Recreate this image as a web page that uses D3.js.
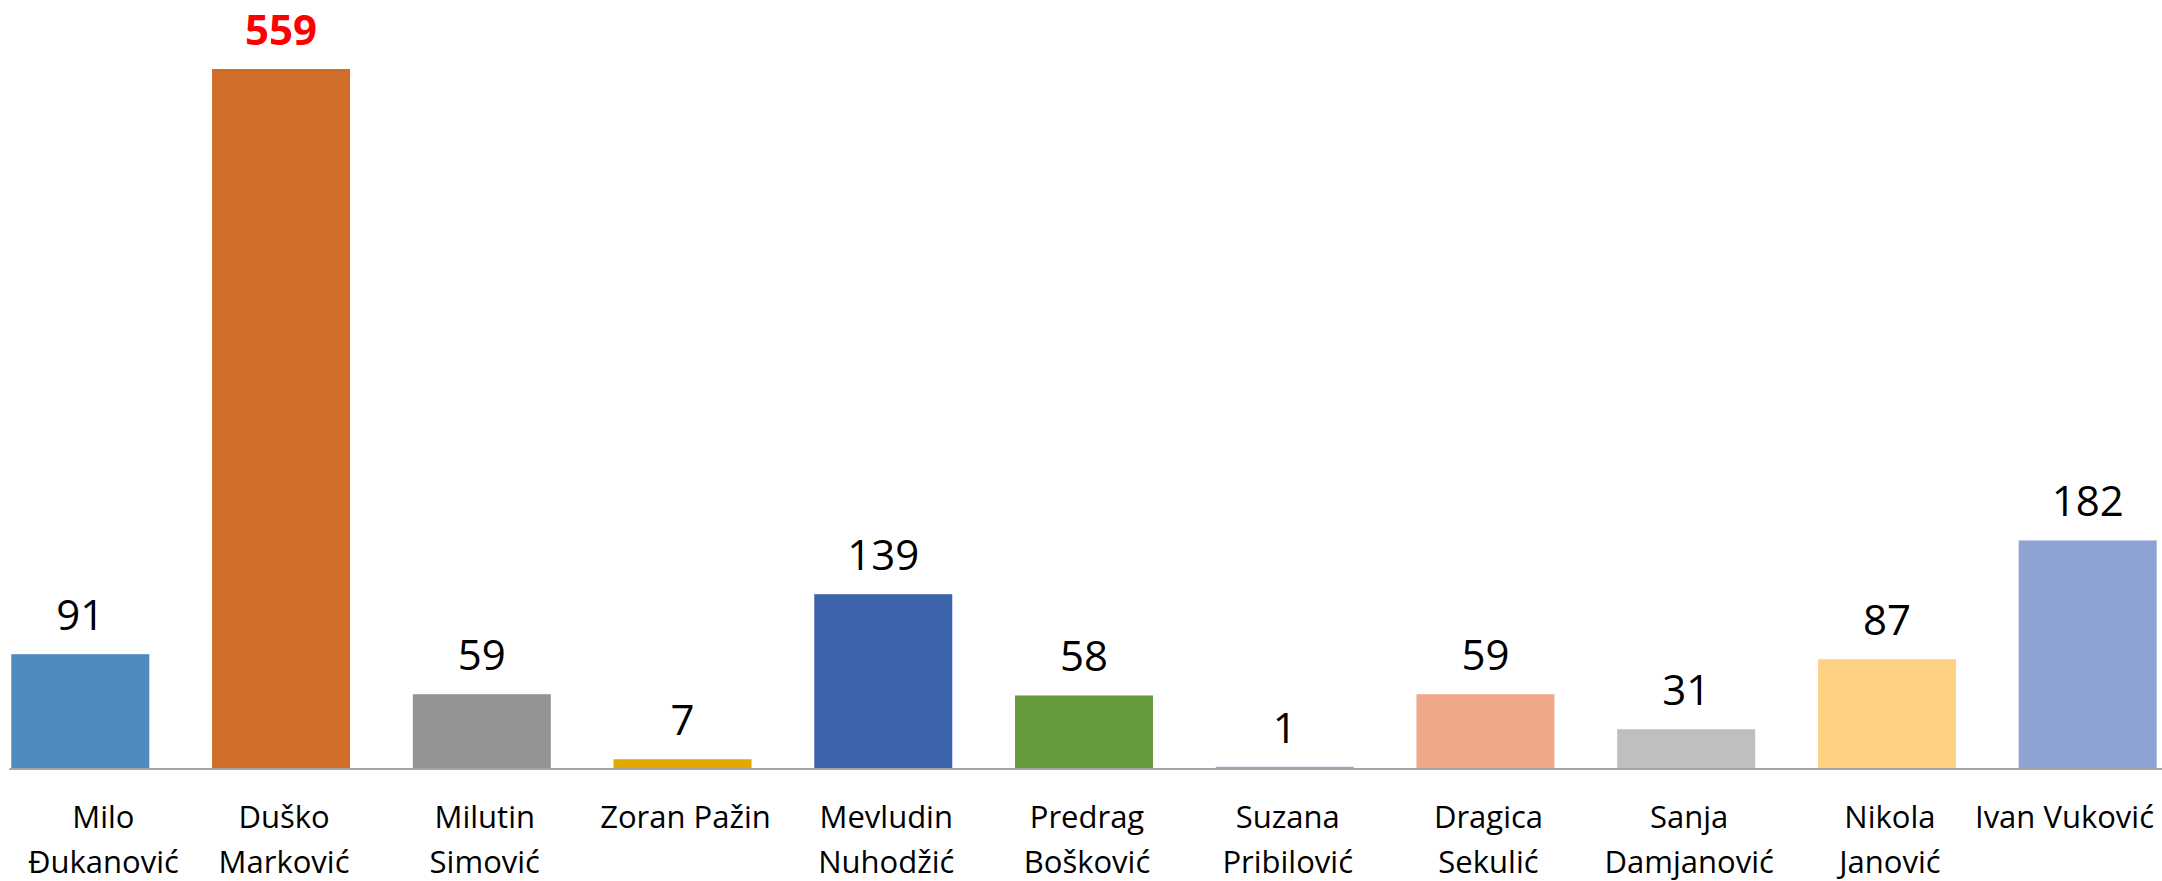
<!DOCTYPE html>
<html>
<head>
<meta charset="utf-8">
<script src="https://cdn.jsdelivr.net/npm/d3@7"></script>
<style>
  body { margin: 0; background: #fff; }
  svg { display: block; font-family: "Open Sans", sans-serif; }
</style>
</head>
<body>
<div id="main"></div>
<script>
// Data
const names = [
  ['Milo', 'Đukanović'],
  ['Duško', 'Marković'],
  ['Milutin', 'Simović'],
  ['Zoran Pažin'],
  ['Mevludin', 'Nuhodžić'],
  ['Predrag', 'Bošković'],
  ['Suzana', 'Pribilović'],
  ['Dragica', 'Sekulić'],
  ['Sanja', 'Damjanović'],
  ['Nikola', 'Janović'],
  ['Ivan Vuković']
];
const votes = [91, 559, 59, 7, 139, 58, 1, 59, 31, 87, 182];
const colors = ['#4f89bd', '#d16d2a', '#939393', '#e2a800', '#3c64ab', '#659a3d',
                '#8fb0dc', '#f0a88a', '#bfbfbf', '#ffd185', '#8ea3d3'];
const highlight = 'Duško Marković';

const w = 2162;
const h = 881;
const base = 768;

const data = names.map((n, i) => ({ key: n.join(' '), lines: n, value: votes[i], color: colors[i] }));

const svg = d3.select('#main')
  .append('svg')
  .attr('width', w)
  .attr('height', h);

// plot area runs a little past both edges, like the cropped original
const xScale = d3.scaleBand()
  .domain(data.map((d) => d.key))
  .range([-20, 2188])
  .paddingInner(0.3125)
  .paddingOuter(0.156);

const yScale = d3.scaleLinear()
  .domain([0, d3.max(votes)])
  .range([base, 69]);

svg.selectAll('rect.bar')
  .data(data)
  .enter()
  .append('rect')
  .attr('class', 'bar')
  .attr('x', (d) => xScale(d.key))
  .attr('y', (d) => yScale(d.value))
  .attr('width', xScale.bandwidth())
  .attr('height', (d) => base - yScale(d.value))
  .style('fill', (d) => d.color);

// baseline
svg.append('line')
  .attr('x1', xScale(data[0].key) - 2)
  .attr('x2', w)
  .attr('y1', base + 1)
  .attr('y2', base + 1)
  .style('stroke', '#a6a6a6')
  .style('stroke-width', 2);

// value labels
svg.selectAll('text.value')
  .data(data)
  .enter()
  .append('text')
  .attr('class', 'value')
  .attr('x', (d) => xScale(d.key) + xScale.bandwidth() / 2)
  .attr('y', (d) => yScale(d.value) - 24)
  .attr('text-anchor', 'middle')
  .style('font-size', '42px')
  .style('font-weight', (d) => (d.key == highlight ? 'bold' : 'normal'))
  .style('fill', (d) => (d.key == highlight ? '#ff0000' : '#000'))
  .text((d) => d.value);

// category labels, kept inside the picture
const cats = svg.selectAll('text.cat')
  .data(data)
  .enter()
  .append('text')
  .attr('class', 'cat')
  .attr('text-anchor', 'middle')
  .style('font-size', '31px')
  .style('fill', '#000');

cats.selectAll('tspan')
  .data((d) => d.lines)
  .enter()
  .append('tspan')
  .attr('y', (d, i) => 828 + i * 45)
  .text((d) => d);

function placeLabels() {
  cats.each(function (d) {
    const t = d3.select(this);
    const len = d3.max(t.selectAll('tspan').nodes(), (n) => n.getComputedTextLength());
    let cx = xScale(d.key) + xScale.bandwidth() / 2 + 3;
    cx = Math.max(28 + len / 2, Math.min(2154 - len / 2, cx));
    t.selectAll('tspan').attr('x', cx);
  });
}
placeLabels();
document.fonts.ready.then(placeLabels);
</script>
</body>
</html>
